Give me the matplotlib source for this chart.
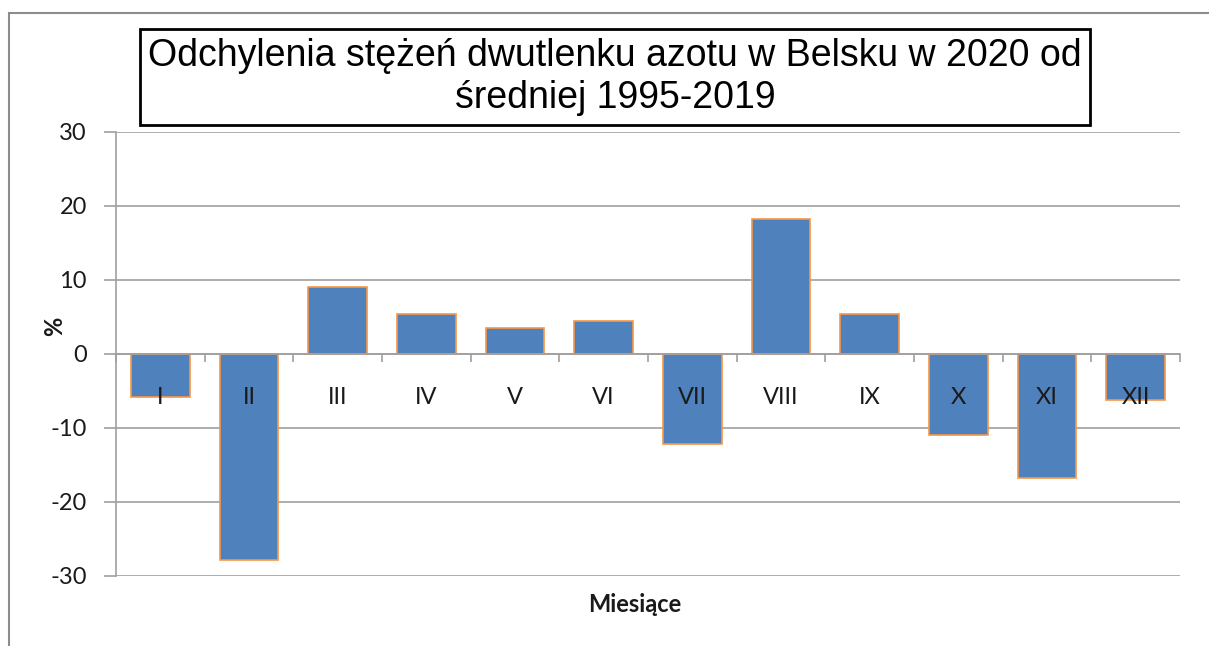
import matplotlib
matplotlib.use('Agg')
import numpy as np
import matplotlib.pyplot as plt
import matplotlib.patches as patches
from matplotlib.transforms import offset_copy

# monthly deviation of NO2 concentrations, Belsko 2020 vs 1995-2019 mean (%)
months = ['I', 'II', 'III', 'IV', 'V', 'VI', 'VII', 'VIII', 'IX', 'X', 'XI', 'XII']
deviation = [-5.8, -27.8, 9.0, 5.4, 3.5, 4.5, -12.1, 18.3, 5.4, -10.9, -16.7, -6.2]
y_ticks = [-30, -20, -10, 0, 10, 20, 30]

W, H = 1209, 646
BAR_FACE = '#4f81bd'
BAR_EDGE = '#f79646'
GRID = '#a0a0a0'
TXT = '#1a1a1a'
TICK_FONT = ['Lato', 'DejaVu Sans']

fig = plt.figure(figsize=(W / 100, H / 100), dpi=100, facecolor='white')

# outer chart frame (only top and left edges are visible in the crop)
fig.add_artist(patches.Rectangle(
    (9 / W, -0.2), 1.2, 1.2 - 13 / H, transform=fig.transFigure,
    fill=False, edgecolor='#8c8c8c', linewidth=1.5))

# plot area
ax = fig.add_axes([116 / W, (H - 576) / H, (1180 - 116) / W, (576 - 132) / H])
ax.set_axisbelow(True)

x = np.arange(len(months))
ax.bar(x, deviation, width=0.66, color=BAR_FACE, edgecolor=BAR_EDGE,
       linewidth=1.2, zorder=2)

ax.set_xlim(-0.5, len(months) - 0.5)
ax.set_ylim(y_ticks[0], y_ticks[-1])
ax.set_yticks(y_ticks)
ax.set_yticklabels([str(v) for v in y_ticks], fontfamily=TICK_FONT,
                   fontsize=17, color=TXT)
ax.yaxis.grid(True, color=GRID, linewidth=1.2)
ax.tick_params(axis='y', direction='out', length=9, width=1.2,
               color=GRID, pad=12)

# category axis sits on zero, ticks at category boundaries
ax.spines['bottom'].set_position(('data', 0))
ax.spines['bottom'].set_color(GRID)
ax.spines['bottom'].set_linewidth(1.2)
ax.spines['left'].set_color(GRID)
ax.spines['left'].set_linewidth(1.2)
ax.spines['top'].set_visible(False)
ax.spines['right'].set_visible(False)
ax.set_xticks(np.arange(-0.5, len(months)))
ax.set_xticklabels([])
ax.tick_params(axis='x', direction='out', length=6, width=1.2, color=GRID)

# month labels drawn over the bars, just below the zero line
lab_tr = offset_copy(ax.transData, fig=fig, y=-31, units='points')
for xi, m in zip(x, months):
    ax.text(xi, 0, m, transform=lab_tr, ha='center', va='center',
            fontsize=17, fontfamily=TICK_FONT, color=TXT, zorder=5)

# axis titles
fig.text(55 / W, 1 - 326 / H, '%', rotation=90, ha='center', va='center',
         fontsize=17, fontweight='bold', fontfamily=TICK_FONT, color=TXT)
fig.text(635 / W, 1 - 605 / H, 'Miesiące', ha='center', va='center',
         fontsize=17, fontweight='bold', fontfamily=TICK_FONT, color=TXT)

# boxed title
fig.text(615 / W, 1 - 77 / H,
         'Odchylenia stężeń dwutlenku azotu w Belsku w 2020 od\nśredniej 1995-2019',
         ha='center', va='center', fontsize=27, fontfamily='Liberation Sans',
         linespacing=1.25,
         bbox=dict(boxstyle='square,pad=0.22', facecolor='white',
                   edgecolor='black', linewidth=2))

fig.savefig('out.png', dpi=100, facecolor='white')
